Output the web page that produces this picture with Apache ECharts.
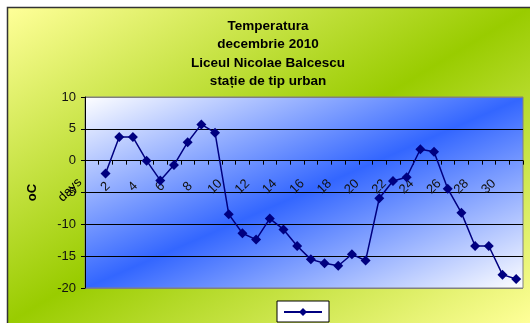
<!DOCTYPE html>
<html>
<head>
<meta charset="utf-8">
<script src="https://cdn.jsdelivr.net/npm/echarts@6/dist/echarts.min.js"></script>
<style>
  html, body { margin: 0; padding: 0; background: #fff; }
  #chart { width: 530px; height: 323px; }
</style>
</head>
<body>
<div id="chart"></div>
<script>
// Day numbers on the category axis (first slot has no reading)
const days = ['1','2','3','4','5','6','7','8','9','10','11','12','13','14','15','16',
              '17','18','19','20','21','22','23','24','25','26','27','28','29','30','31','32'];
// Daily temperature readings, °C
const temperatures = [null, -2.0, 3.7, 3.7, 0.0, -3.1, -0.7, 2.9, 5.7, 4.4, -8.4, -11.4, -12.4,
                      -9.1, -10.8, -13.4, -15.5, -16.1, -16.5, -14.7, -15.7, -5.9, -3.2, -2.6,
                      1.8, 1.4, -4.4, -8.2, -13.4, -13.4, -17.9, -18.6];
// Day labels printed under the axis
const dayTicks = ['2','4','6','8','10','12','14','16','18','20','22','24','26','28','30'];
// Temperature scale
const yMin = -20, yMax = 10, yStep = 5;

const titleLines = ['Temperatura', 'decembrie 2010', 'Liceul Nicolae Balcescu', 'stație de tip urban'];

const W = 530, H = 323;
// Plot rectangle inside the frame
const gridBox = { left: 85, top: 97, right: 7, bottom: 35 };
const plotW = W - gridBox.left - gridBox.right;
const plotH = H - gridBox.top - gridBox.bottom;
// The day axis sits on the 0 °C line: lift it up from the bottom edge
const zeroLift = plotH * (0 - yMin) / (yMax - yMin);

// Corner-to-corner gradient whose middle band runs along the
// bottom-left / top-right diagonal of a w×h box
function diagonalVector(w, h) {
  const t = (2 * w * h) / (w * w + h * h);
  return { dx: h * t, dy: w * t };
}

const chart = echarts.init(document.getElementById('chart'), null, { renderer: 'canvas' });

const frame = { x: 7.5, y: 7.5, w: 523, h: 316 };
const fv = diagonalVector(frame.w, frame.h);
const frameFill = new echarts.graphic.LinearGradient(
  frame.x, frame.y, frame.x + fv.dx, frame.y + fv.dy, [
    { offset: 0, color: '#ffff99' },
    { offset: 0.5, color: '#99cc00' },
    { offset: 1, color: '#ffff99' }
  ], true);

const pv = diagonalVector(plotW, plotH);
const plotFill = new echarts.graphic.LinearGradient(0, 0, pv.dx / plotW, pv.dy / plotH, [
  { offset: 0, color: '#ffffff' },
  { offset: 0.5, color: '#3366ff' },
  { offset: 1, color: '#ffffff' }
]);

chart.setOption({
  animation: false,
  backgroundColor: '#ffffff',
  graphic: [
    {
      type: 'rect', z: -10, silent: true,
      shape: { x: frame.x, y: frame.y, width: 540, height: 330 },
      style: { fill: frameFill, stroke: '#333333', lineWidth: 1.5 }
    },
    {
      type: 'text', z: 10, silent: true,
      x: 70, y: 190, rotation: Math.PI / 4,
      style: {
        text: 'days', fontFamily: 'Liberation Sans', fontSize: 13, fill: '#000',
        align: 'center', verticalAlign: 'middle'
      }
    }
  ],
  title: {
    text: titleLines.join('\n'),
    left: 268, top: 17, textAlign: 'center', padding: 0,
    textStyle: {
      fontFamily: 'Liberation Sans', fontWeight: 'bold', fontSize: 13.5,
      lineHeight: 18.5, color: '#000'
    }
  },
  legend: {
    left: 277, top: 301, padding: [6, 6, 6, 6],
    itemWidth: 38, itemHeight: 10, itemGap: 0,
    backgroundColor: '#ffffff', borderColor: '#000000', borderWidth: 1, borderRadius: 0,
    formatter: () => '',
    textStyle: { fontSize: 1 }
  },
  grid: Object.assign({
    show: true, backgroundColor: plotFill, borderColor: '#808080', borderWidth: 1
  }, gridBox),
  xAxis: {
    type: 'category',
    data: days,
    boundaryGap: true,
    position: 'bottom',
    offset: -zeroLift,
    axisLine: { onZero: false, lineStyle: { color: '#000', width: 1 } },
    axisTick: { show: true, interval: 0, length: 4, inside: false, lineStyle: { color: '#000' } },
    axisLabel: {
      rotate: 45, margin: 26, align: 'center', verticalAlign: 'middle',
      interval: (idx, val) => dayTicks.indexOf(val) !== -1,
      fontFamily: 'Liberation Sans', fontSize: 13, color: '#111'
    },
    splitLine: { show: false }
  },
  yAxis: {
    type: 'value',
    min: yMin, max: yMax, interval: yStep,
    name: 'oC', nameLocation: 'middle', nameGap: 46, nameRotate: 90,
    nameTextStyle: { fontFamily: 'Liberation Sans', fontWeight: 'bold', fontSize: 13, color: '#000' },
    axisLine: { show: true, lineStyle: { color: '#000', width: 1 } },
    axisTick: { show: true, length: 4, lineStyle: { color: '#000' } },
    axisLabel: { margin: 9, fontFamily: 'Liberation Sans', fontSize: 13, color: '#111' },
    splitLine: {
      show: true,
      lineStyle: { color: ['#808080', '#000', '#000', '#000', '#000', '#000', '#808080'], width: 1 }
    }
  },
  series: [{
    name: 'Temperatura',
    type: 'line',
    data: temperatures,
    connectNulls: false,
    showAllSymbol: true,
    symbol: 'diamond', symbolSize: 10,
    itemStyle: { color: '#000080' },
    lineStyle: { color: '#000080', width: 1.5 }
  }]
});
</script>
</body>
</html>
